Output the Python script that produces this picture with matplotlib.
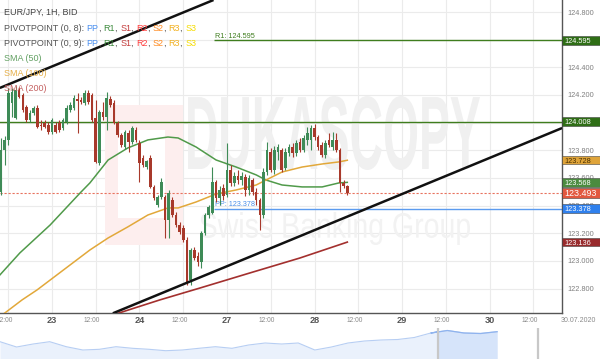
import numpy as np
import matplotlib
matplotlib.use('Agg')
import matplotlib.pyplot as plt
from matplotlib.patches import Rectangle, PathPatch
from matplotlib.textpath import TextPath
from matplotlib.font_manager import FontProperties
from matplotlib.transforms import Affine2D, blended_transform_factory

# ---------------- data ----------------
hours = np.arange(-14, 82)  # hourly candles, 0 = 23 Jul 00:00 (weekend collapsed)
opens = [123.499, 123.802, 123.875, 124.142, 124.034, 124.236, 124.200, 124.113, 124.019, 124.070,
         124.106, 123.983, 123.998, 123.983, 123.932, 123.983, 123.998, 123.961, 124.005, 124.092,
         124.106, 124.171, 124.164, 124.142, 124.215, 124.200, 124.034, 123.708, 124.077, 124.041,
         124.171, 124.142, 123.998, 123.911, 123.824, 123.925, 123.860, 123.947, 123.853, 123.745,
         123.679, 123.745, 123.535, 123.405, 123.462, 123.462, 123.296, 123.441, 123.332, 123.260,
         123.238, 123.152, 122.862, 123.079, 123.036, 122.992, 123.202, 123.332, 123.347, 123.571,
         123.455, 123.528, 123.477, 123.658, 123.564, 123.614, 123.585, 123.607, 123.513, 123.585,
         123.499, 123.441, 123.332, 123.643, 123.788, 123.658, 123.788, 123.802, 123.672, 123.781,
         123.824, 123.781, 123.860, 123.802, 123.875, 123.875, 123.961, 123.896, 123.839, 123.766,
         123.875, 123.824, 123.875, 123.802, 123.564, 123.542]
highs = [123.889, 123.904, 124.251, 124.251, 124.265, 124.258, 124.215, 124.128, 124.092, 124.121,
         124.128, 124.019, 124.019, 124.005, 124.034, 124.005, 124.019, 124.034, 124.128, 124.149,
         124.200, 124.215, 124.186, 124.236, 124.236, 124.215, 124.164, 124.092, 124.149, 124.222,
         124.193, 124.164, 124.012, 123.925, 123.947, 123.947, 123.976, 123.969, 123.875, 123.766,
         123.730, 123.766, 123.549, 123.477, 123.600, 123.477, 123.513, 123.462, 123.354, 123.282,
         123.260, 123.173, 123.094, 123.101, 123.065, 123.217, 123.347, 123.405, 123.679, 123.585,
         123.542, 123.557, 123.853, 123.694, 123.643, 123.658, 123.643, 123.629, 123.622, 123.600,
         123.528, 123.455, 123.672, 123.860, 123.817, 123.831, 123.846, 123.817, 123.817, 123.846,
         123.853, 123.875, 123.889, 123.911, 123.969, 123.983, 123.990, 123.911, 123.860, 123.875,
         123.925, 123.932, 123.925, 123.817, 123.585, 123.549]
lows = [123.477, 123.694, 123.839, 124.041, 124.027, 124.178, 124.077, 124.005, 124.005, 124.055,
        123.961, 123.947, 123.961, 123.918, 123.918, 123.925, 123.932, 123.947, 123.990, 124.077,
        124.092, 123.925, 124.135, 124.128, 124.135, 124.005, 123.708, 123.694, 124.019, 123.947,
        124.113, 123.990, 123.896, 123.824, 123.810, 123.788, 123.846, 123.860, 123.571, 123.679,
        123.665, 123.528, 123.441, 123.390, 123.448, 123.166, 123.166, 123.318, 123.246, 123.195,
        123.137, 122.826, 122.826, 123.007, 122.964, 122.949, 123.188, 123.311, 123.340, 123.426,
        123.405, 123.441, 123.462, 123.542, 123.542, 123.557, 123.549, 123.470, 123.477, 123.477,
        123.405, 123.224, 123.311, 123.622, 123.643, 123.629, 123.730, 123.643, 123.658, 123.759,
        123.752, 123.759, 123.788, 123.788, 123.839, 123.802, 123.875, 123.802, 123.752, 123.745,
        123.824, 123.802, 123.788, 123.499, 123.528, 123.477]
closes = [123.802, 123.875, 124.215, 124.222, 124.236, 124.186, 124.092, 124.019, 124.070, 124.106,
          123.969, 123.976, 123.969, 123.932, 124.019, 123.932, 123.947, 124.019, 124.106, 124.128,
          124.178, 124.157, 124.149, 124.215, 124.149, 124.019, 123.716, 124.077, 124.041, 124.178,
          124.128, 123.998, 123.911, 123.839, 123.932, 123.860, 123.961, 123.875, 123.708, 123.694,
          123.723, 123.535, 123.455, 123.462, 123.571, 123.296, 123.491, 123.332, 123.260, 123.209,
          123.152, 122.848, 123.079, 123.021, 122.992, 123.202, 123.332, 123.390, 123.571, 123.455,
          123.513, 123.470, 123.658, 123.564, 123.614, 123.585, 123.614, 123.513, 123.600, 123.499,
          123.441, 123.332, 123.643, 123.802, 123.658, 123.802, 123.824, 123.658, 123.788, 123.824,
          123.781, 123.853, 123.802, 123.889, 123.925, 123.961, 123.896, 123.824, 123.766, 123.853,
          123.839, 123.875, 123.802, 123.564, 123.542, 123.493]

sma50_hours = [-14.3, -8.8, -0.5, 7.7, 10.4, 15.4, 20.8, 26.3, 31.8, 34.6, 39.5, 45.0, 50.5, 56.0, 58.7,
               63.1, 68.6, 74.1, 78.7, 81.0]
sma50_vals = [122.898, 123.058, 123.260, 123.491, 123.564, 123.730, 123.817, 123.875, 123.896, 123.889,
              123.824, 123.730, 123.679, 123.622, 123.585, 123.549, 123.535, 123.535, 123.564, 123.568]
sma100_hours = [-14.3, -12.9, -8.2, -4.1, 10.4, 15.4, 20.8, 26.3, 31.8, 34.6, 39.5, 45.0, 50.5, 56.0,
                58.7, 63.1, 68.6, 74.1, 78.7, 81.0]
sma100_vals = [122.595, 122.624, 122.718, 122.790, 123.079, 123.166, 123.246, 123.332, 123.383, 123.383,
               123.426, 123.484, 123.513, 123.549, 123.585, 123.643, 123.679, 123.701, 123.716, 123.728]
sma200_hours = [16.7, 29.6, 40.6, 54.3, 68.0, 81.0]
sma200_vals = [122.609, 122.718, 122.804, 122.913, 123.021, 123.136]

upper_trend_hours = [-14.3, 44.3]
upper_trend_vals = [124.251, 124.887]
lower_trend_hours = [16.7, 139.9]
lower_trend_vals = [122.621, 123.961]

pivot_start_hour = 44.3
pivot_r1 = 124.595
pivot_pp = 123.378
prev_r1 = 124.008
last_price = 123.493

y_ticks = [122.8, 123.0, 123.2, 123.4, 123.6, 123.8, 124.0, 124.2, 124.4, 124.6, 124.8]
hidden_tick_labels = [124.0, 124.6]   # fully covered by value boxes in the reference
day_hours = [0, 24, 48, 72, 96, 120]
day_labels = ['23', '24', '27', '28', '29', '30']
noon_hours = [-12, 12, 36, 60, 84, 108, 132]
end_date_label = '30.07.2020'

nav_heights = [17.3, 12, 15, 17.3, 12.3, 9, 9.7, 12.3, 10.7, 9.7, 8.3, 9, 10.7, 12.3, 10.7, 14, 16, 15,
               16, 9, 12, 16, 18, 19, 19.5, 21.5, 26, 28.5, 26, 25.5, 27.3]

# ---------------- figure ----------------
plt.rcParams['font.family'] = ['Liberation Sans', 'DejaVu Sans']
W, H = 600, 359
fig = plt.figure(figsize=(6, 3.59), dpi=100)
fig.patch.set_facecolor('white')

ax_bottom_px = 313.3
ax = fig.add_axes([0, 1 - ax_bottom_px / H, 562 / W, ax_bottom_px / H])
ax.set_xlim(-14.26, 139.88)
ax.set_ylim(122.621, 124.887)

# grid
ax.set_yticks(y_ticks)
ax.set_yticklabels(['' if v in hidden_tick_labels else '%.3f' % v for v in y_ticks])
ax.set_xticks(day_hours + noon_hours)
ax.set_xticklabels([])
ax.grid(True, color='#ebebeb', lw=0.8, zorder=0)
ax.set_axisbelow(True)
ax.yaxis.tick_right()
ax.tick_params(axis='y', length=0, labelsize=5.3, labelcolor='#808080', pad=4)
ax.tick_params(axis='x', length=0)
for s in ['top', 'left']:
    ax.spines[s].set_visible(False)
for s in ['right', 'bottom']:
    ax.spines[s].set_color('#555555')
    ax.spines[s].set_linewidth(1.0)

# ---- helpers (figure pixel space, origin top-left) ----
def px_rect(x0, y0, x1, y1, target=None, **kw):
    r = Rectangle((x0 / W, 1 - y1 / H), (x1 - x0) / W, (y1 - y0) / H, transform=fig.transFigure, **kw)
    if target is None:
        fig.add_artist(r)
    else:
        target.add_patch(r)
    return r

def px_textpath(s, x0, y0, x1, y1, color, weight='bold'):
    tp = TextPath((0, 0), s, size=1, prop=FontProperties(family='Liberation Sans', weight=weight))
    bb = tp.get_extents()
    tr = (Affine2D().translate(-bb.x0, -bb.y0)
          .scale((x1 - x0) / bb.width / W, (y1 - y0) / bb.height / H)
          .translate(x0 / W, 1 - y1 / H)) + fig.transFigure
    p = PathPatch(tp, transform=tr, fc=color, ec='none', zorder=0.7)
    ax.add_artist(p)

# ---- watermark (behind the data) ----
px_rect(105, 105, 183, 245, target=ax, fc='#fdeeee', ec='none', zorder=0.6)
px_rect(118, 130, 165, 218, target=ax, fc='white', ec='none', zorder=0.65)
px_textpath('DUKASCOPY', 188, 96, 480, 170, '#f0f0f0')
px_textpath('Swiss Banking Group', 200, 212, 470, 245, '#f2f2f2', weight='normal')

# ---- horizontal levels ----
ax.axhline(prev_r1, color='#3f7d1e', lw=1.0, zorder=2)
ax.hlines(pivot_r1, pivot_start_hour, 139.88, color='#3f7d1e', lw=1.0, zorder=2)
ax.hlines(pivot_pp, pivot_start_hour, 139.88, color='#5b9bef', lw=1.0, zorder=2)
ax.axhline(last_price, color='#e8735f', lw=0.8, ls=(0, (2, 1.6)), zorder=2)
ax.text(pivot_start_hour + 0.4, pivot_r1 + 0.006, 'R1: %.3f' % pivot_r1, color='#3f7d1e',
        fontsize=5.2, va='bottom', ha='left', zorder=3)
ax.text(pivot_start_hour + 0.4, pivot_pp + 0.004, 'PP: %.3f' % pivot_pp, color='#4a8ee8',
        fontsize=5.2, va='bottom', ha='left', zorder=3)

# ---- SMA lines ----
ax.plot(sma50_hours, sma50_vals, color='#509a4a', lw=1.1, zorder=3)
ax.plot(sma100_hours, sma100_vals, color='#e2a83a', lw=1.1, zorder=3)
ax.plot(sma200_hours, sma200_vals, color='#a3302e', lw=1.2, zorder=3)

# ---- candles ----
green, red = '#3e8b57', '#a8392b'
for t, o, h, l, c in zip(hours, opens, highs, lows, closes):
    col = green if c >= o else red
    ax.vlines(t, l, h, color=col, lw=0.8, zorder=4)
    body = c - o
    if abs(body) < 0.004:
        body = 0.004 if body >= 0 else -0.004
    ax.bar(t, body, bottom=o, width=0.72, color=col, lw=0, zorder=5)

# ---- trend lines ----
ax.plot(upper_trend_hours, upper_trend_vals, color='#111111', lw=1.8, zorder=6, solid_capstyle='butt')
ax.plot(lower_trend_hours, lower_trend_vals, color='#111111', lw=1.8, zorder=6, solid_capstyle='butt')

# ---- x labels ----
bt = blended_transform_factory(ax.transData, ax.transAxes)
ylab = -(320.5 - ax_bottom_px) / ax_bottom_px
for dh, lab in zip(day_hours, day_labels):
    ax.text(dh, ylab, lab, transform=bt, ha='center', va='center', fontsize=6.6,
            fontweight='bold', color='#555555', clip_on=False)
for nh in noon_hours:
    ax.text(nh - 1.1, ylab, '12:00', transform=bt, ha='center', va='center', fontsize=4.8,
            color='#8a8a8a', clip_on=False)
fig.text(578 / W, 1 - 320.5 / H, end_date_label, ha='center', va='center', fontsize=5,
         color='#8a8a8a')

# ---- right value boxes ----
def value_box(val, fc, tc, fs=5.3, hgt=8.4):
    yd = ax.transData.transform((0, val))[1]
    yc = H - yd
    px_rect(562, yc - hgt / 2, 600, yc + hgt / 2, fc=fc, ec='#444444', lw=0.4, zorder=10)
    fig.text(564.5 / W, 1 - yc / H, '%.3f' % val, ha='left', va='center_baseline',
             fontsize=fs, color=tc, zorder=11)

value_box(pivot_r1, '#2f6e16', 'white')
value_box(prev_r1, '#2f6e16', 'white')
value_box(sma100_vals[-1], '#dfa43a', '#4a3000')
value_box(sma50_vals[-1], '#4b8b3f', 'white')
value_box(pivot_pp, '#2f80ed', 'white')
value_box(sma200_vals[-1], '#982a2c', 'white')
value_box(last_price, '#e2583f', 'white', fs=6.4, hgt=10)

# ---- legend (top-left) ----
fig.canvas.draw()
renderer = fig.canvas.get_renderer()

def draw_pieces(y, pieces, fs=6.5):
    x = 4
    for s, col in pieces:
        t = fig.text(x / W, 1 - y / H, s, ha='left', va='center', fontsize=fs, color=col, zorder=12)
        bb = t.get_window_extent(renderer)
        x += bb.width

piv_cols = [('PP', '#4a8ff0'), ('R1', '#3d8b3d'), ('S1', '#c43c3c'), ('R2', '#ff3c3c'),
            ('S2', '#ff8a1e'), ('R3', '#f2b01e'), ('S3', '#f5dc00')]

def piv_pieces(head):
    out = [(head, '#555555')]
    for k, (n, c) in enumerate(piv_cols):
        out.append((n, c))
        if k < len(piv_cols) - 1:
            out.append((', ', '#555555'))
    return out

draw_pieces(12.7, [('EUR/JPY, 1H, BID', '#444444')])
draw_pieces(28.3, piv_pieces('PIVOTPOINT (0, 8): '))
draw_pieces(43.3, piv_pieces('PIVOTPOINT (0, 9): '))
draw_pieces(58.3, [('SMA (50)', '#62a062')])
draw_pieces(73.3, [('SMA (100)', '#e6b04a')])
draw_pieces(88.3, [('SMA (200)', '#c46060')])

# ---- navigator ----
nav = fig.add_axes([0, 0, 1, 31 / H])
nav.set_xlim(0, W / 16.57)
nav.set_ylim(0, 31)
nav.axis('off')
nx = np.arange(len(nav_heights))
nav.fill_between(nx, nav_heights, 0, color='#eaf1fc', lw=0)
nav.plot(nx, nav_heights, color='#b7cef3', lw=0.8)
sel = nx >= 26
sel_start = 438 / 16.57
sel_h = np.interp(sel_start, nx, nav_heights)
xs = np.concatenate([[sel_start], nx[sel]])
hs = np.concatenate([[sel_h], np.array(nav_heights)[sel]])
nav.fill_between(xs, hs, 0, color='#d6e4fa', lw=0)
nav.plot(xs, hs, color='#8fb3ee', lw=0.9)
nav.axvline(sel_start, color='#c8c8c8', lw=1.6)
nav.axvline(538 / 16.57, color='#c8c8c8', lw=1.6)

fig.savefig('out.png', dpi=100, facecolor='white')
